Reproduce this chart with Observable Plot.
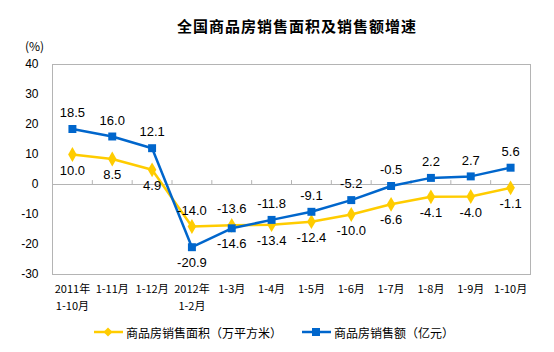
<!DOCTYPE html>
<html>
<head>
<meta charset="utf-8">
<script src="https://cdn.jsdelivr.net/npm/d3@7"></script>
<script src="https://cdn.jsdelivr.net/npm/@observablehq/plot@0.6"></script>
<style>
  html, body { margin: 0; padding: 0; background: #fff; }
  #wrap { position: relative; width: 554px; height: 352px; overflow: hidden; font-family: "Liberation Sans", "Noto Sans CJK SC", sans-serif; }
  #title { position: absolute; left: 0; width: 594px; top: 16px; text-align: center; font-family: "Noto Sans CJK SC", sans-serif; font-weight: bold; font-size: 15px; letter-spacing: 1px; color: #000; line-height: 20px; }
  #unit { position: absolute; left: 25px; top: 37px; font-size: 12px; color: #000; font-family: "Noto Sans CJK SC", sans-serif; }
  #chart { position: absolute; left: 0; top: 0; }
  #legend { position: absolute; top: 323px; left: 0; width: 554px; font-family: "Noto Sans CJK SC", sans-serif; font-size: 12px; color: #000; }
  .item { position: absolute; display: flex; align-items: center; height: 18px; }
  .item svg { margin-right: 3px; }
</style>
</head>
<body>
<div id="wrap">
  <div id="chart"></div>
  <div id="title">全国商品房销售面积及销售额增速</div>
  <div id="unit">(%)</div>
  <div id="legend"></div>
</div>
<script>
const categories = ["2011年\n1-10月", "1-11月", "1-12月", "2012年\n1-2月", "1-3月", "1-4月", "1-5月", "1-6月", "1-7月", "1-8月", "1-9月", "1-10月"];
const seriesNames = ["商品房销售面积（万平方米）", "商品房销售额（亿元）"];
const areaGrowth = [10.0, 8.5, 4.9, -14.0, -13.6, -13.4, -12.4, -10.0, -6.6, -4.1, -4.0, -1.1];
const salesGrowth = [18.5, 16.0, 12.1, -20.9, -14.6, -11.8, -9.1, -5.2, -0.5, 2.2, 2.7, 5.6];
const yTicks = [-30, -20, -10, 0, 10, 20, 30, 40];
const colors = ["#FFCC00", "#0066CC"];
const symbols = ["diamond", "square"];

const rows = [];
categories.forEach((c, i) => {
  rows.push({i, series: seriesNames[0], value: areaGrowth[i], above: areaGrowth[i] >= salesGrowth[i]});
  rows.push({i, series: seriesNames[1], value: salesGrowth[i], above: salesGrowth[i] > areaGrowth[i]});
});
const boundaries = d3.range(1, categories.length).map(i => i - 0.5);
const firstLine = i => categories[i].split("\n")[0];
const secondLine = i => categories[i].split("\n")[1] || "";
const twoLineTicks = d3.range(categories.length).filter(i => categories[i].includes("\n"));

const xLabelFont = {fontFamily: "'Noto Sans CJK SC', sans-serif", fontSize: 11, label: null, tickSize: 0};

const chart = Plot.plot({
  width: 554,
  height: 318,
  marginTop: 64,
  marginBottom: 44,
  marginLeft: 52,
  marginRight: 24,
  style: {fontFamily: "'Liberation Sans', 'Noto Sans CJK SC', sans-serif", fontSize: "12px", color: "#000", background: "transparent"},
  x: {type: "linear", domain: [-0.5, categories.length - 0.5], label: null},
  y: {domain: [-30, 40], label: null},
  color: {domain: seriesNames, range: colors},
  symbol: {domain: seriesNames, range: symbols},
  marks: [
    Plot.frame({stroke: "#b4b4b4", strokeWidth: 1}),
    Plot.ruleY([0], {stroke: "#b4b4b4", strokeWidth: 1}),
    Plot.ruleX(boundaries, {y1: 0, y2: 1.3, stroke: "#b4b4b4", strokeWidth: 1}),
    Plot.axisY({ticks: yTicks, tickSize: 0, tickPadding: 14, fontSize: 12, label: null, tickFormat: d => String(d)}),
    Plot.axisX({...xLabelFont, ticks: d3.range(categories.length), tickPadding: 11, tickFormat: firstLine}),
    Plot.axisX({...xLabelFont, ticks: twoLineTicks, tickPadding: 28, tickFormat: secondLine}),
    Plot.line(rows, {x: "i", y: "value", z: "series", stroke: "series", strokeWidth: 2.5}),
    Plot.dot(rows, {x: "i", y: "value", fill: "series", symbol: "series", r: 4.5, stroke: null}),
    Plot.text(rows.filter(d => d.above), {x: "i", y: "value", text: d => d.value.toFixed(1), dy: -16, fontSize: 13, fill: "#000"}),
    Plot.text(rows.filter(d => !d.above), {x: "i", y: "value", text: d => d.value.toFixed(1), dy: 16, fontSize: 13, fill: "#000"})
  ]
});
document.getElementById("chart").appendChild(chart);

const legend = document.getElementById("legend");
const legendLeft = [94, 302];
seriesNames.forEach((name, k) => {
  const item = document.createElement("div");
  item.className = "item";
  item.style.left = legendLeft[k] + "px";
  const sym = symbols[k] === "square"
    ? `<rect x="10" y="5" width="8" height="8" fill="${colors[k]}"/>`
    : `<path d="M14,4.5 L18.5,9 L14,13.5 L9.5,9 Z" fill="${colors[k]}"/>`;
  item.innerHTML = `<svg width="29" height="18"><line x1="0" x2="29" y1="9" y2="9" stroke="${colors[k]}" stroke-width="2.5"/>${sym}</svg><span>${name}</span>`;
  legend.appendChild(item);
});
</script>
</body>
</html>
